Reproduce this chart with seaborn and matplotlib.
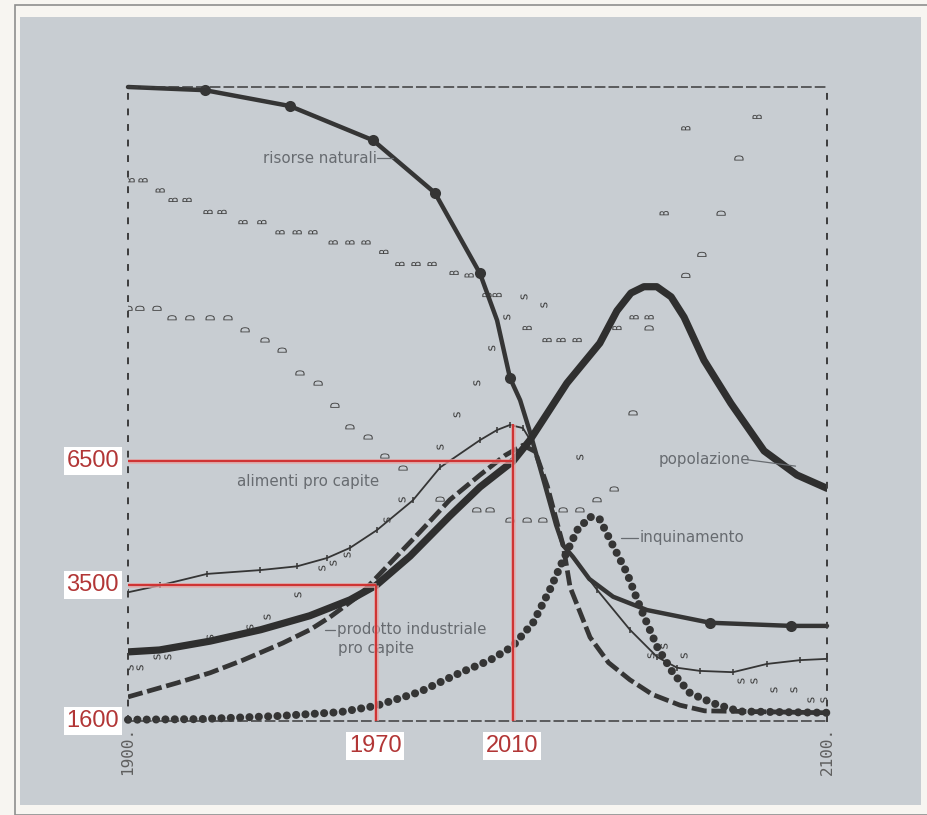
# Limits-to-growth style "standard run" chart with red reference marks
import matplotlib
matplotlib.use("Agg")
import matplotlib.pyplot as plt
from matplotlib.markers import MarkerStyle
from matplotlib.patches import Rectangle
from matplotlib.textpath import TextPath
from matplotlib.font_manager import FontProperties
from matplotlib.transforms import Affine2D
import seaborn as sns

# ---- values (y = 0..100 relative scale) ----
pop_years = [1900, 1909, 1923.5, 1938, 1952, 1963.5, 1971, 1980.7, 1992, 2000.7, 2010.2,
             2015, 2025.6, 2035, 2039.9, 2043.9, 2047.6, 2051.3, 2055.4, 2059.1, 2064.8,
             2072.5, 2082, 2091.4, 2100]
pop_values = [10.9, 11.2, 12.6, 14.4, 16.6, 19.1, 21.4, 26.0, 32.3, 36.9, 41.0,
              44.3, 53.3, 59.6, 64.7, 67.5, 68.5, 68.5, 66.9, 63.7, 56.9,
              50.1, 42.6, 38.8, 36.7]

res_years = [1900, 1922, 1946.3, 1970.1, 1987.8, 2000.7, 2005.6, 2009.3, 2012.2, 2015,
             2019.3, 2022.5, 2024.5, 2027.3, 2032, 2038.8, 2048.5, 2066.5, 2089.7, 2100]
res_values = [100.0, 99.5, 97.0, 91.6, 83.3, 70.6, 63.2, 54.1, 50.6, 45.6,
              37.2, 30.9, 27.7, 25.9, 22.4, 19.6, 17.5, 15.5, 15.0, 15.0]
res_dots = [1, 2, 3, 4, 5, 7, 17, 18]

pol_years = [1900, 1920.6, 1943.5, 1960.7, 1971, 1983.5, 1995, 2003.6, 2009.9, 2015.9, 2020.7,
             2024.5, 2028.5, 2032.2, 2035, 2038, 2042.8, 2046.5, 2051.4, 2055.9, 2060.8,
             2067.4, 2075, 2100]
pol_values = [0.2, 0.3, 0.8, 1.4, 2.4, 4.6, 7.6, 9.6, 11.7, 15.5, 20.7,
              25.4, 30.1, 32.2, 31.8, 28.5, 23.3, 18.0, 11.7, 7.6, 4.4,
              2.8, 1.5, 1.3]

ind_years = [1900, 1914, 1923.5, 1932.9, 1944.3, 1952.1, 1957.8, 1966.4, 1975, 1983.5, 1992.1,
             2000.7, 2007.9, 2013, 2016.5, 2020, 2024.5, 2026.5, 2032.2, 2037.5, 2043.6,
             2050, 2057.9, 2065, 2100]
ind_values = [3.8, 6.0, 7.6, 9.6, 12.3, 14.4, 16.4, 19.9, 24.9, 29.8, 34.9,
              38.8, 41.9, 43.5, 42.5, 37.0, 27.7, 21.1, 13.2, 9.2, 6.5,
              4.2, 2.5, 1.6, 1.3]

food_years = [1900, 1909.2, 1922.6, 1937.8, 1948.4, 1956.9, 1963.5, 1971.2, 1981.5, 1989.3,
              2000.7, 2005.6, 2009.3, 2013, 2016, 2019.3, 2024.5, 2034.2, 2043.6, 2051.4,
              2057.1, 2063.7, 2073.1, 2082.8, 2092.3, 2100]
food_values = [20.3, 21.4, 23.2, 23.8, 24.4, 25.7, 27.3, 30.1, 34.8, 40.0,
               44.3, 45.9, 46.7, 46.2, 43.5, 38.0, 27.7, 20.7, 14.4, 10.1,
               8.4, 7.9, 7.7, 9.0, 9.6, 9.8]

svc_years = [1900.6, 1903.4, 1908.3, 1911.4, 1923.5, 1934.9, 1939.8, 1948.6, 1955.5, 1958.7,
             1962.7, 1974.1, 1978.4, 1989.3, 1994.1, 1999.8, 2004.1, 2008.4, 2013.3, 2019,
             2029.3, 2049.6, 2053.4, 2059.1, 2075.4, 2079.1, 2084.8, 2090.5, 2095.4, 2099.1]
svc_values = [8.4, 8.4, 10.1, 10.1, 13.2, 14.8, 16.4, 19.9, 24.1, 24.9,
              26.2, 31.7, 34.9, 43.2, 48.3, 53.3, 58.8, 63.7, 66.9, 65.6,
              41.6, 10.3, 11.8, 10.3, 6.3, 6.3, 4.9, 4.9, 3.3, 3.3]

birth_years = [1900.6, 1904.3, 1909.2, 1912.9, 1916.9, 1922.9, 1926.9, 1932.9, 1938.3, 1943.5,
               1948.4, 1952.9, 1958.7, 1963.5, 1968.1, 1973.2, 1977.8, 1982.4, 1987, 1993.3,
               1997.6, 2002.7, 2005.6, 2014.2, 2019.9, 2023.9, 2028.5, 2039.9, 2044.8, 2049.1,
               2053.4, 2059.6, 2080]
birth_values = [85.3, 85.3, 83.7, 82.2, 82.2, 80.3, 80.3, 78.7, 78.7, 77.1,
                77.1, 77.1, 75.5, 75.5, 75.5, 74.0, 72.1, 72.1, 72.1, 70.7,
                70.3, 67.2, 67.2, 62.0, 60.1, 60.1, 60.1, 62.0, 63.7, 63.7,
                80.1, 93.5, 95.3]

death_years = [1900, 1903.4, 1908.3, 1912.6, 1917.7, 1923.5, 1928.6, 1933.5, 1939.2, 1944.1,
               1949.2, 1954.4, 1959.2, 1963.5, 1968.7, 1973.5, 1978.7, 1989.3, 1999.8, 2003.6,
               2009.3, 2014.2, 2018.7, 2024.5, 2029.3, 2034.2, 2039.1, 2044.5, 2049.1, 2059.6,
               2064.2, 2069.7, 2074.8]
death_values = [65.1, 65.1, 65.1, 63.6, 63.6, 63.6, 63.6, 61.7, 60.1, 58.5,
                54.9, 53.3, 49.8, 46.4, 44.8, 41.8, 39.9, 35.0, 33.3, 33.3,
                31.7, 31.7, 31.7, 33.3, 33.3, 34.9, 36.6, 48.6, 62.0, 70.3,
                73.6, 80.1, 88.8]

# red reference marks added on top of the scan
ref_levels = [41.0, 21.4, 0.0]
ref_level_labels = ["6500", "3500", "1600"]
ref_level_ends = [2010.2, 1971.0, None]
ref_years = [1971.0, 2010.2]
ref_year_labels = ["1970", "2010"]
ref_year_tops = [21.4, 46.8]

INK = "#353535"
GREY_TXT = "#676b70"
RED = "#cf3434"

sns.set_theme(style="white")
plt.rcParams["font.family"] = ["Liberation Sans", "DejaVu Sans"]


def letter_marker(ch, squash=1.0):
    # printer letters appear turned by 90 degrees on the scanned sheet
    p = TextPath((0, 0), ch, size=10, prop=FontProperties(family="DejaVu Sans"))
    ext = p.get_extents()
    t = (Affine2D().translate(-(ext.x0 + ext.x1) / 2, -(ext.y0 + ext.y1) / 2)
         .rotate_deg(90).scale(1, squash))
    return MarkerStyle(t.transform_path(p))


W, H = 928, 815
fig = plt.figure(figsize=(W / 100, H / 100), dpi=100, facecolor="#f7f5f1")

# scanned page: thin frame + grey-blue card (behind the axes)
fig.add_artist(Rectangle((15 / W, 0), 913 / W, 810 / H, transform=fig.transFigure,
                         fc="none", ec="#8e8e8e", lw=1.2, zorder=-10))
fig.add_artist(Rectangle((20 / W, 1 - 805 / H), 901 / W, 788 / H, transform=fig.transFigure,
                         fc="#c8cdd2", ec="none", zorder=-9))

ax = fig.add_axes([128 / W, 1 - 721 / H, 699 / W, 634 / H])
ax.set_facecolor("none")

# birth / death / services printed as turned letters
sns.scatterplot(x=birth_years, y=birth_values, marker=letter_marker("B", 0.65),
                s=44, color="#404040", edgecolor="none", ax=ax)
sns.scatterplot(x=death_years, y=death_values, marker=letter_marker("D", 0.65),
                s=44, color="#404040", edgecolor="none", ax=ax)
sns.scatterplot(x=svc_years, y=svc_values, marker=letter_marker("s"),
                s=26, color="#404040", edgecolor="none", ax=ax)

# food per capita: thin line with ticks
sns.lineplot(x=food_years, y=food_values, color=INK, lw=1.3, marker="|", markersize=5,
             markeredgewidth=1.1, markeredgecolor=INK, sort=False, ax=ax)

# industrial output per capita: thick dashes
sns.lineplot(x=ind_years, y=ind_values, color=INK, lw=3.4, linestyle=(0, (3.2, 1.0)),
             sort=False, ax=ax)

# pollution: big dots
sns.lineplot(x=pol_years, y=pol_values, color=INK, lw=5.8, linestyle=(0, (0.01, 1.15)),
             dash_capstyle="round", sort=False, clip_on=False, ax=ax)

# resources: heavy line with dots
sns.lineplot(x=res_years, y=res_values, color=INK, lw=3.2, marker="o", markersize=8,
             markeredgecolor=INK, markeredgewidth=0, markevery=res_dots, sort=False,
             clip_on=False, ax=ax)

# population: heaviest solid line
sns.lineplot(x=pop_years, y=pop_values, color="#2f2f2f", lw=5.2, solid_capstyle="round",
             solid_joinstyle="round", sort=False, ax=ax)

# curve names
lab = dict(color=GREY_TXT, fontsize=10.8, va="center", ha="left", family="DejaVu Sans")
ax.text(1938.6, 88.8, "risorse naturali", **lab)
ax.plot([1971.2, 1975.8], [88.8, 88.8], color=GREY_TXT, lw=0.9)
ax.text(1931.2, 37.8, "alimenti pro capite", **lab)
ax.text(1959.8, 14.4, "prodotto industriale", **lab)
ax.text(1960.1, 11.5, "pro capite", **lab)
ax.plot([1956.4, 1959.2], [14.4, 14.4], color=GREY_TXT, lw=0.9)
ax.text(2051.9, 41.2, "popolazione", **lab)
ax.plot([2077.3, 2091.0], [41.2, 40.2], color=GREY_TXT, lw=0.9)
ax.text(2046.5, 28.9, "inquinamento", **lab)
ax.plot([2041.0, 2045.8], [28.9, 28.9], color=GREY_TXT, lw=0.9)

# red reference marks
for lvl, end in zip(ref_levels, ref_level_ends):
    if end is not None:
        ax.plot([1900, end], [lvl, lvl], color="#e6aaaa", lw=3.6, alpha=0.7, zorder=6,
                solid_capstyle="butt")
        ax.plot([1900, end], [lvl, lvl], color=RED, lw=1.6, zorder=7, solid_capstyle="butt")
for yr, top in zip(ref_years, ref_year_tops):
    ax.plot([yr, yr], [0, top], color="#e6aaaa", lw=3.6, alpha=0.7, zorder=6,
            solid_capstyle="butt")
    ax.plot([yr, yr], [0, top], color=RED, lw=1.6, zorder=7, solid_capstyle="butt")

box = dict(boxstyle="square,pad=0.12", fc="white", ec="none")
for lvl, txt in zip(ref_levels, ref_level_labels):
    ax.annotate(txt, xy=(1900, lvl), xytext=(-9, 0), textcoords="offset pixels",
                ha="right", va="center", fontsize=17, color="#b23636", bbox=box,
                annotation_clip=False, zorder=8)
for yr, txt in zip(ref_years, ref_year_labels):
    ax.annotate(txt, xy=(yr, 0), xytext=(-1, -25), textcoords="offset pixels",
                ha="center", va="center", fontsize=17, color="#b23636", bbox=box,
                annotation_clip=False, zorder=8)

# dashed frame and the two year ticks
ax.set_xlim(1900, 2100)
ax.set_ylim(0, 100)
for side in ["top", "bottom"]:
    ax.spines[side].set_linestyle((0, (6, 3)))
    ax.spines[side].set_linewidth(1.1)
    ax.spines[side].set_color("#3c3c3c")
for side in ["left", "right"]:
    ax.spines[side].set_linestyle((0, (2.5, 5.5)))
    ax.spines[side].set_linewidth(1.4)
    ax.spines[side].set_color("#3c3c3c")

ax.set_xticks([1900, 2100])
ax.set_xticklabels(["1900.", "2100."], rotation=90, fontfamily="DejaVu Sans Mono",
                   fontsize=11.5, color="#5f5f5f")
ax.set_yticks([])
ax.tick_params(axis="x", length=0, pad=4)
ax.set_xlabel("")
ax.set_ylabel("")

fig.savefig("out.png", dpi=100, facecolor=fig.get_facecolor())
